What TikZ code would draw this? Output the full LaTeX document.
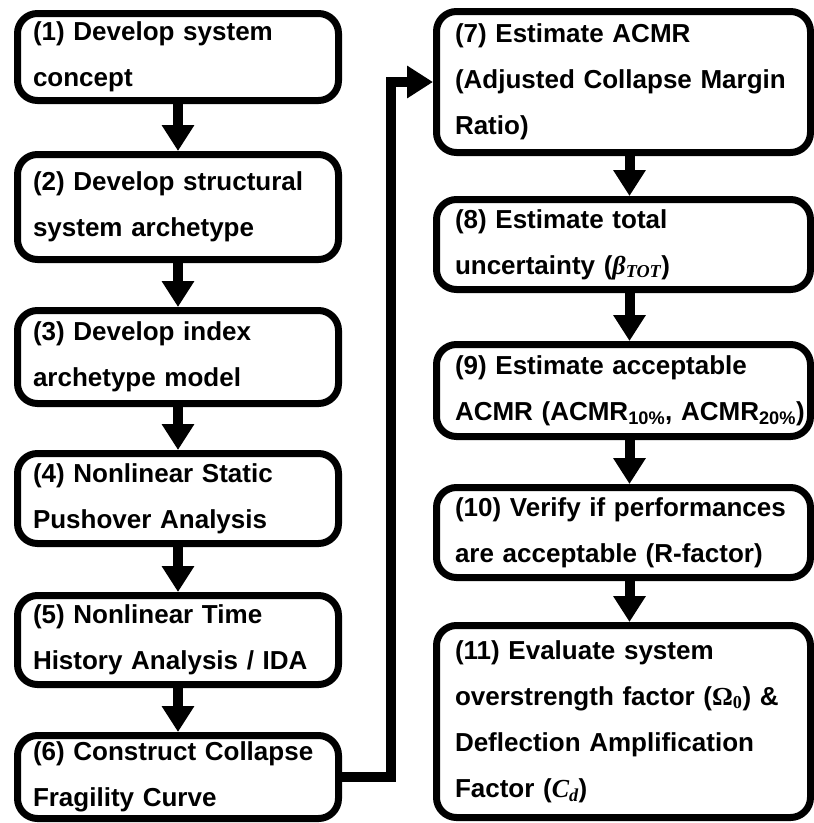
\documentclass[tikz,border=0pt]{standalone}
\usepackage{fontspec}
\setmainfont{Liberation Sans}
\newfontfamily\symserif{Liberation Serif}
\usetikzlibrary{arrows.meta,positioning}

\begin{document}
\begin{tikzpicture}[
  x=1pt, y=-1pt,
  stepbox/.style={draw, line width=7pt, rounded corners=20pt, align=left,
    font={\fontsize{26}{46}\selectfont\bfseries}, inner ysep=4pt},
  leftbox/.style={stepbox, text width=290pt, inner xsep=15.5pt, minimum width=321pt},
  rightbox/.style={stepbox, text width=337pt, inner xsep=18.5pt, minimum width=374pt},
  flow/.style={line width=10pt, -{Triangle[width=31pt,length=26pt]}}
]
\useasboundingbox (0,0) rectangle (814,823);

% Left column: steps 1 to 6
\node[leftbox, minimum height=87pt] (s1) at (178,57) {(1) Develop system\\concept};
\node[leftbox, minimum height=105pt] (s2) at (178,207) {(2) Develop structural\\system archetype};
\node[leftbox, minimum height=93pt] (s3) at (178,357) {(3) Develop index\\archetype model};
\node[leftbox, minimum height=90pt] (s4) at (178,498.5) {(4) Nonlinear Static\\Pushover Analysis};
\node[leftbox, minimum height=89pt] (s5) at (178,640) {(5) Nonlinear Time\\History Analysis / IDA};
\node[leftbox, minimum height=83pt] (s6) at (178,777) {(6) Construct Collapse\\Fragility Curve};

% Right column: steps 7 to 11
\node[rightbox, minimum height=141pt] (s7) at (623.5,82) {(7) Estimate ACMR\\(Adjusted Collapse Margin\\Ratio)};
\node[rightbox, minimum height=90pt] (s8) at (623.5,244.5) {(8) Estimate total\\uncertainty ({\symserif\itshape β\textsubscript{TOT}})};
\node[rightbox, minimum height=92pt] (s9) at (623.5,390.5) {(9) Estimate acceptable\\\mbox{ACMR (ACMR\textsubscript{10\%}, ACMR\textsubscript{20\%})}};
\node[rightbox, minimum height=90pt] (s10) at (623.5,532.5) {(10) Verify if performances\\are acceptable (R-factor)};
\node[rightbox, minimum height=192pt] (s11) at (623.5,721.5) {(11) Evaluate system\\overstrength factor ({\symserif Ω\textsubscript{0}}) \&\\Deflection Amplification\\Factor ({\symserif\itshape C\textsubscript{d}})};

% Flow arrows
\foreach \a/\b in {s1/s2, s2/s3, s3/s4, s4/s5, s5/s6}
  \draw[flow] (\a) -- (\b);
\foreach \a/\b in {s7/s8, s8/s9, s9/s10, s10/s11}
  \draw[flow] ([xshift=6pt]\a.south) -- ([xshift=6pt]\b.north);
\draw[flow] (s6.east) -- ++(48.5,0) |- (s7.west);
\end{tikzpicture}
\end{document}
